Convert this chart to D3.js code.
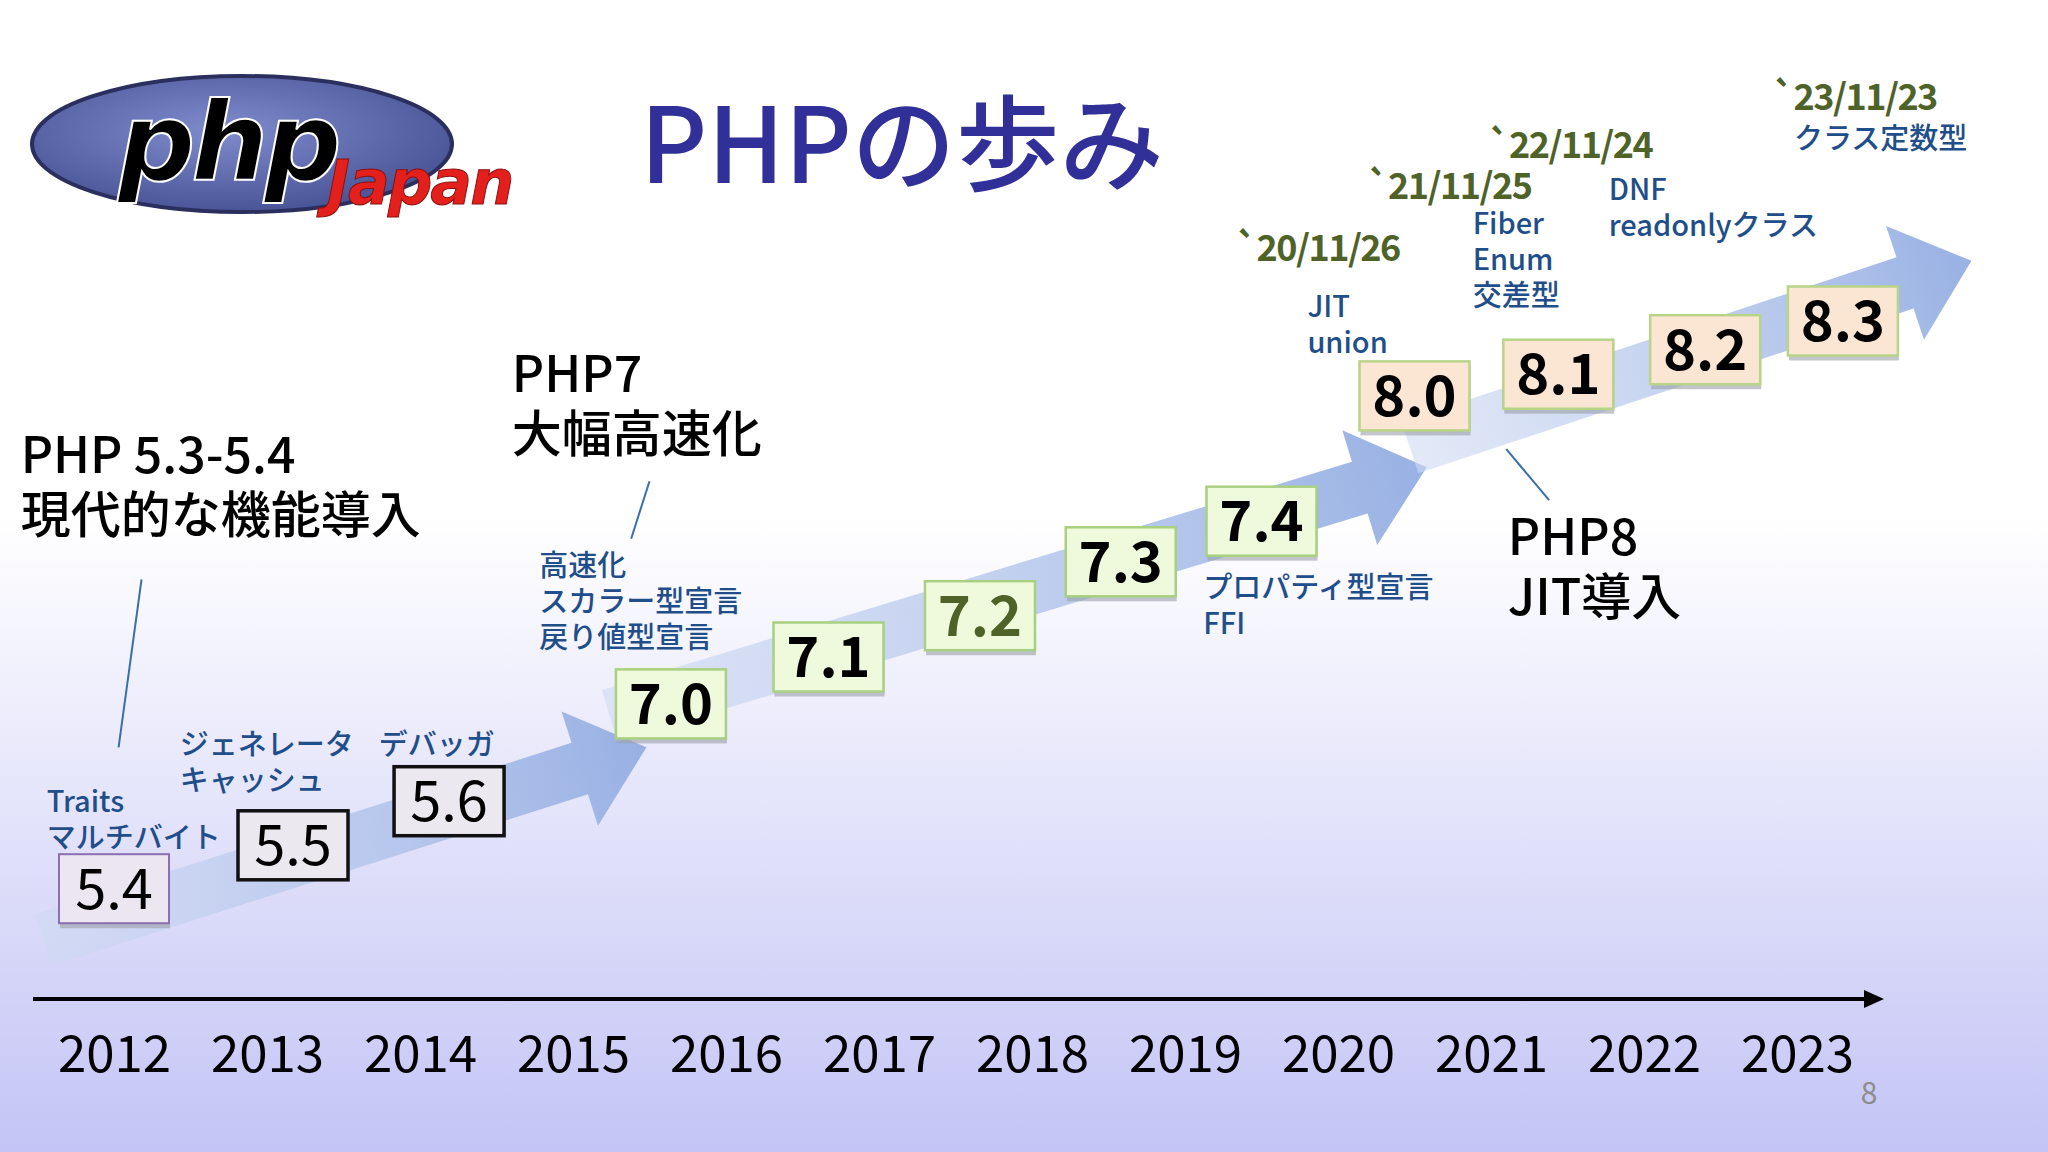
<!DOCTYPE html>
<html><head><meta charset="utf-8">
<script src="https://cdnjs.cloudflare.com/ajax/libs/d3/7.8.5/d3.min.js"></script>
<style>body{margin:0;overflow:hidden}svg{display:block}</style>
</head><body>
<svg id="c" width="2048" height="1152"></svg>
<script>
// ---- data ----
const years = [2012,2013,2014,2015,2016,2017,2018,2019,2020,2021,2022,2023];
const versions = ["5.4","5.5","5.6","7.0","7.1","7.2","7.3","7.4","8.0","8.1","8.2","8.3"];
const versionTime = [2012.0,2013.17,2014.19,2015.64,2016.67,2017.66,2018.58,2019.5,2020.5,2021.44,2022.4,2023.3];
const versionLevel = [15.9,22.1,28.4,42.3,49.0,54.9,62.6,68.4,86.3,89.4,92.9,97.0];
const versionGroup = ["a","b","b","g","g","g","g","g","p","p","p","p"];
const arrowTail = [[2011.54,8.6],[2015.24,40.6],[2020.47,78.9]];
const arrowTip  = [[2015.48,36.1],[2020.58,76.1],[2024.14,105.6]];
const features = [
  {t:2011.56,l:26.9,lines:["Traits","マルチバイト"]},
  {t:2012.43,l:35.0,lines:["ジェネレータ","キャッシュ"]},
  {t:2013.73,l:35.0,lines:["デバッガ"]},
  {t:2014.78,l:60.6,lines:["高速化","スカラー型宣言","戻り値型宣言"]},
  {t:2019.12,l:57.4,lines:["プロパティ型宣言","FFI"]},
  {t:2019.80,l:97.6,lines:["JIT","union"]},
  {t:2020.88,l:109.4,lines:["Fiber","Enum","交差型"]},
  {t:2021.77,l:114.3,lines:["DNF","readonlyクラス"]},
  {t:2022.98,l:121.6,lines:["クラス定数型"]}
];
const dates = [
  {t:2019.33,l:105.6,s:"`20/11/26"},
  {t:2020.19,l:114.4,s:"`21/11/25"},
  {t:2020.98,l:120.3,s:"`22/11/24"},
  {t:2022.84,l:127.1,s:"`23/11/23"}
];
const eras = [
  {t:2011.39,l:75.3,lines:["PHP 5.3-5.4","現代的な機能導入"],from:[2012.18,60.1],to:[2012.03,36.1]},
  {t:2014.6,l:86.9,lines:["PHP7","大幅高速化"],from:[2015.5,74.1],to:[2015.38,65.9]},
  {t:2021.11,l:63.6,lines:["PHP8","JIT導入"],from:[2021.1,78.7],to:[2021.38,71.4]}
];

// ---- scales ----
const x = d3.scaleLinear().domain([2012,2023]).range([114,1797]);
const y = d3.scaleLinear().domain([0,100]).range([1000,300]);
const svg = d3.select("#c");
const defs = svg.append("defs");
const FONT = "'Noto Sans CJK JP','Noto Sans',sans-serif";

// background
const bg = defs.append("linearGradient").attr("id","bg").attr("x1",0).attr("y1",0).attr("x2",0).attr("y2",1);
bg.append("stop").attr("offset","0.45").attr("stop-color","#ffffff");
bg.append("stop").attr("offset","1").attr("stop-color","#c4c4f6");
svg.append("rect").attr("width",2048).attr("height",1152).attr("fill","url(#bg)");

// arrows
arrowTail.forEach((tl,i)=>{
  const a=[x(tl[0]),y(tl[1])], b=[x(arrowTip[i][0]),y(arrowTip[i][1])];
  const dx=b[0]-a[0], dy=b[1]-a[1], L=Math.hypot(dx,dy), ux=dx/L, uy=dy/L, nx=-uy, ny=ux;
  const sw=27, hw=60, hl=70;
  const hb=[b[0]-ux*hl,b[1]-uy*hl];
  const pts=[[a[0]+nx*sw,a[1]+ny*sw],[hb[0]+nx*sw,hb[1]+ny*sw],[hb[0]+nx*hw,hb[1]+ny*hw],b,
             [hb[0]-nx*hw,hb[1]-ny*hw],[hb[0]-nx*sw,hb[1]-ny*sw],[a[0]-nx*sw,a[1]-ny*sw]];
  const gid="ag"+i;
  const g=defs.append("linearGradient").attr("id",gid).attr("gradientUnits","userSpaceOnUse")
    .attr("x1",a[0]).attr("y1",a[1]).attr("x2",b[0]).attr("y2",b[1]);
  g.append("stop").attr("offset",0).attr("stop-color","#cfdaf2").attr("stop-opacity",0.6);
  g.append("stop").attr("offset",1).attr("stop-color","#93ade2").attr("stop-opacity",0.95);
  svg.append("path").attr("d",d3.line()(pts)+"Z").attr("fill","url(#"+gid+")");
});

// axis
svg.append("line").attr("x1",33).attr("x2",1866).attr("y1",999).attr("y2",999).attr("stroke","#000").attr("stroke-width",4);
svg.append("path").attr("d","M1864,990L1884,999L1864,1008Z").attr("fill","#000");
const axis = d3.axisBottom(x).tickValues(years).tickFormat(d3.format("d")).tickSize(0).tickPadding(0);
const ax = svg.append("g").attr("transform","translate(0,1036)").call(axis);
ax.select(".domain").remove();
ax.selectAll("text").attr("font-family",FONT).attr("font-size",51).attr("fill","#000");
svg.append("text").attr("x",1869).attr("y",1104).attr("text-anchor","middle").attr("font-family",FONT).attr("font-size",30).attr("fill","#8c8c8c").text("8");

// logo
const lg = defs.append("radialGradient").attr("id","lg").attr("cx","45%").attr("cy","40%").attr("r","60%");
lg.append("stop").attr("offset",0).attr("stop-color","#7f8ccc");
lg.append("stop").attr("offset",1).attr("stop-color","#4a5598");
svg.append("ellipse").attr("cx",242).attr("cy",144).attr("rx",210).attr("ry",68).attr("fill","url(#lg)").attr("stroke","#2a2f5e").attr("stroke-width",4);
svg.append("text").attr("x",118).attr("y",180).attr("font-family","'DejaVu Sans',sans-serif").attr("font-weight","bold").attr("font-style","italic")
  .attr("font-size",108).attr("fill","#000").attr("stroke","#fff").attr("stroke-width",2).attr("letter-spacing",-4).text("php");
svg.append("text").attr("x",327).attr("y",204).attr("font-family","'DejaVu Sans',sans-serif").attr("font-weight","bold").attr("font-style","italic")
  .attr("font-size",62).attr("fill","#e3201b").attr("stroke","#8a1010").attr("stroke-width",1).attr("letter-spacing",-2).text("Japan");

// title
svg.append("text").attr("x",640).attr("y",183).attr("font-family",FONT).attr("font-size",104).attr("font-weight",500).attr("fill","#312f98").text("PHPの歩み");

// era labels
eras.forEach(e=>{
  svg.append("line").attr("x1",x(e.from[0])).attr("y1",y(e.from[1])).attr("x2",x(e.to[0])).attr("y2",y(e.to[1])).attr("stroke","#3a6ea8").attr("stroke-width",2);
  e.lines.forEach((s,i)=>svg.append("text").attr("x",x(e.t)).attr("y",y(e.l)+i*60).attr("font-family",FONT).attr("font-weight",500).attr("font-size",50).attr("fill","#000").text(s));
});

// features
features.forEach(f=>f.lines.forEach((s,i)=>svg.append("text").attr("x",x(f.t)).attr("y",y(f.l)+i*36)
  .attr("font-family",FONT).attr("font-weight",500).attr("font-size",29).attr("fill","#1f4e8a").text(s)));
dates.forEach(d=>svg.append("text").attr("x",x(d.t)).attr("y",y(d.l)).attr("font-family",FONT).attr("font-weight","bold")
  .attr("font-size",36).attr("letter-spacing",-1.5).attr("fill","#4f6228").text(d.s));

// version boxes
const style = {
  a:{fill:"#ece6f0",stroke:"#8c6fb0",sw:2,weight:400,shadow:true},
  b:{fill:"#ece8f0",stroke:"#111",sw:3.5,weight:400,shadow:false},
  g:{fill:"#eefadb",stroke:"#a8d080",sw:2.5,weight:700,shadow:true},
  p:{fill:"#fbe6d4",stroke:"#b8d488",sw:2.5,weight:700,shadow:true}
};
const bw=110,bh=69;
versions.forEach((v,i)=>{
  const s=style[versionGroup[i]], cx=x(versionTime[i]), cy=y(versionLevel[i]);
  if(s.shadow) svg.append("rect").attr("x",cx-bw/2+1).attr("y",cy-bh/2+5).attr("width",bw).attr("height",bh).attr("fill","#9aa0a8").attr("opacity",0.6);
  svg.append("rect").attr("x",cx-bw/2).attr("y",cy-bh/2).attr("width",bw).attr("height",bh).attr("fill",s.fill).attr("stroke",s.stroke).attr("stroke-width",s.sw);
  svg.append("text").attr("x",cx).attr("y",cy+20).attr("text-anchor","middle").attr("font-family",FONT).attr("font-weight",s.weight)
    .attr("font-size",56).attr("fill",v==="7.2"?"#4f6228":"#000").text(v);
});
</script>
</body></html>
